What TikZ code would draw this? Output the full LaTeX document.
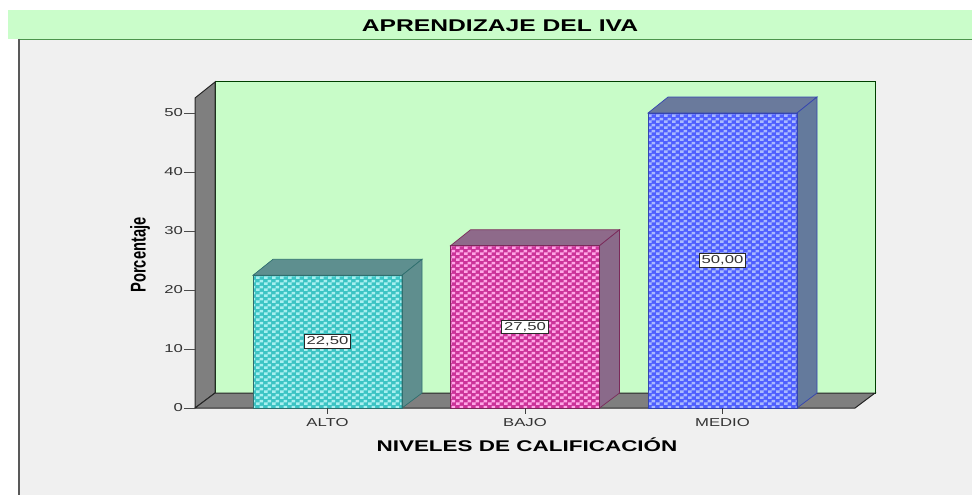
\documentclass[tikz,border=0pt]{standalone}
\usepackage{graphicx}
\usepackage{fontspec}
\setmainfont{Liberation Sans}
\usetikzlibrary{patterns}
\pgfdeclarepatternformonly{chk}{\pgfpointorigin}{\pgfpoint{8pt}{6pt}}{\pgfpoint{8pt}{6pt}}{%
  \pgfpathrectangle{\pgfpointorigin}{\pgfpoint{4pt}{3pt}}%
  \pgfpathrectangle{\pgfpoint{4pt}{3pt}}{\pgfpoint{4pt}{3pt}}%
  \pgfusepath{fill}}
\newcommand{\hs}[1]{\scalebox{1.45}[1]{#1}}
\definecolor{wallgreen}{HTML}{C8FCC8}
\definecolor{bandgreen}{HTML}{CAFDCA}
\definecolor{panelgray}{HTML}{F0F0F0}
\definecolor{sidegray}{HTML}{7F7F7F}
\definecolor{txtgray}{HTML}{333333}
\definecolor{aDark}{HTML}{3CC4C4}\definecolor{aLight}{HTML}{A8F0F0}
\definecolor{aTop}{HTML}{5E8F8F}\definecolor{aSide}{HTML}{5F8E8E}\definecolor{aEdge}{HTML}{2F6F6F}
\definecolor{bDark}{HTML}{CC3399}\definecolor{bLight}{HTML}{FFA6E6}
\definecolor{bTop}{HTML}{8E6A8A}\definecolor{bSide}{HTML}{8A6A8A}\definecolor{bEdge}{HTML}{7A2A5A}
\definecolor{mDark}{HTML}{4F5FFF}\definecolor{mLight}{HTML}{A9B9FF}
\definecolor{mTop}{HTML}{6A7A9C}\definecolor{mSide}{HTML}{647A9C}\definecolor{mEdge}{HTML}{3545B0}
\tikzset{
  valbox/.style={draw=txtgray!80!black, fill=white, line width=0.9pt, inner xsep=2.5pt, inner ysep=2pt, text=txtgray, font=\fontsize{11.5}{12}\selectfont},
  ticklbl/.style={text=txtgray, font=\fontsize{11.5}{12}\selectfont, inner sep=0pt},
  framel/.style={draw=black!80, line width=0.8pt}
}
\newcommand{\drawbar}[9]{%
  \pgfmathsetmacro{\xa}{#2}\pgfmathsetmacro{\xb}{#2+149}%
  \pgfmathsetmacro{\yt}{408-5.9*#3}%
  \fill[#5] (\xa,\yt) rectangle (\xb,408);
  \fill[pattern=chk,pattern color=#6] (\xa,\yt) rectangle (\xb,408);
  \filldraw[fill=#7,draw=#9,line width=0.7pt] (\xa,\yt) -- ++(20,-16) -- ++(149,0) -- (\xb,\yt) -- cycle;
  \filldraw[fill=#8,draw=#9,line width=0.7pt] (\xb,\yt) -- ++(20,-16) -- (\xb+20,393) -- (\xb,408) -- cycle;
  \draw[#9,line width=0.7pt] (\xa,\yt) rectangle (\xb,408);
  \node[valbox] (#1) at ({(\xa+\xb)/2},{(\yt+408)/2}) {\hs{#4}};
}
\begin{document}
\begin{tikzpicture}[x=1pt,y=-1pt]
\useasboundingbox (0,0) rectangle (972,495);
\fill[white] (0,0) rectangle (972,495);
% title band and panel
\fill[bandgreen] (8,10) rectangle (972,39);
\fill[panelgray] (18,39) rectangle (972,495);
\draw[black!30!green!40!gray, line width=0.8pt] (18,39.5) -- (972,39.5);
\draw[black!65, line width=1.6pt] (18.8,39) -- (18.8,495);
\node[inner sep=0pt, font=\bfseries\fontsize{17}{18}\selectfont] (title) at (500,26) {\hs{APRENDIZAJE DEL IVA}};
% back wall
\filldraw[fill=wallgreen, draw=black!75!green, line width=1pt] (215,82) rectangle (875,393);
% side wall
\filldraw[fill=sidegray, draw=black!85, line width=1pt] (195,98) -- (215,82) -- (215,393) -- (195,408) -- cycle;
% floor
\filldraw[fill=sidegray, draw=black!85, line width=1pt] (195,408) -- (215,393) -- (875,393) -- (855,408) -- cycle;
% y axis ticks
\foreach \v in {0,10,20,30,40,50}{
  \pgfmathsetmacro{\yy}{408-5.9*\v}
  \draw[black!70, line width=0.8pt] (184,\yy) -- (195,\yy);
  \node[ticklbl, anchor=east] (t\v) at (183,\yy) {\hs{\v}};
}
% bars
\drawbar{vA}{253}{22.5}{22,50}{aDark}{aLight}{aTop}{aSide}{aEdge}
\drawbar{vB}{450.5}{27.5}{27,50}{bDark}{bLight}{bTop}{bSide}{bEdge}
\drawbar{vM}{648}{50}{50,00}{mDark}{mLight}{mTop}{mSide}{mEdge}
% category ticks and labels
\foreach \cx/\nm/\lbl in {327.5/cA/ALTO,525/cB/BAJO,722.5/cM/MEDIO}{
  \draw[black!75, line width=0.8pt] (\cx,408) -- (\cx,414);
  \node[ticklbl] (\nm) at (\cx,423) {\hs{\lbl}};
}
\node[inner sep=0pt, font=\bfseries\fontsize{15.5}{17}\selectfont] (xlab) at (527,445) {\hs{NIVELES DE CALIFICACIÓN}};
\node[inner sep=0pt, font=\bfseries\fontsize{14.7}{16}\selectfont] (ylab) at (140,255) {\rotatebox{90}{\scalebox{1}[1.45]{Porcentaje}}};
\end{tikzpicture}
\end{document}
